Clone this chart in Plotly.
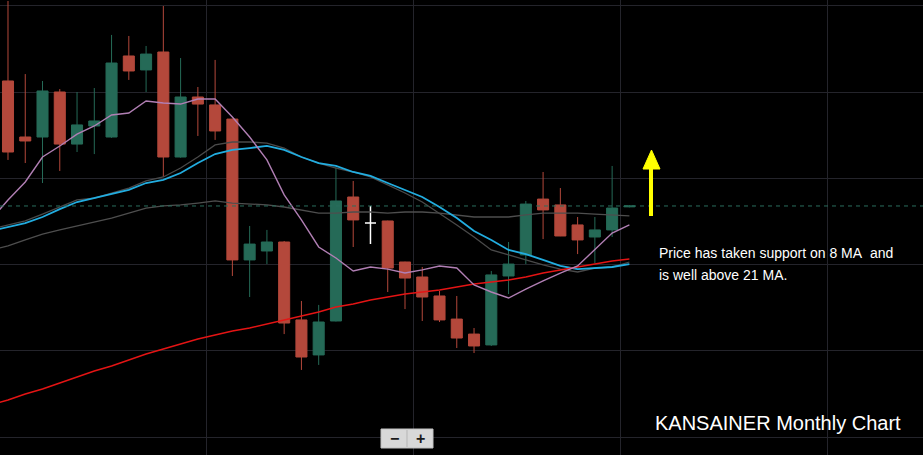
import plotly.graph_objects as go

# ---- data (monthly candles, index 0..36) ----
months = list(range(37))
opens = [556.5, 524.0, 524.0, 550.1, 519.9, 530.4, 524.0, 571.0, 562.9, 573.3,
         512.4, 547.2, 542.6, 534.4, 452.7, 457.9, 463.1, 417.9, 397.6, 417.3,
         489.2, 474.1, 475.3, 451.5, 442.8, 431.8, 418.4, 409.7, 403.4, 443.4,
         455.6, 488.0, 484.6, 473.0, 466.0, 470.1, 483.5]
highs = [602.9, 560.5, 556.5, 551.8, 550.1, 552.4, 583.2, 582.6, 576.8, 600.0,
         569.8, 553.0, 568.7, 534.6, 472.4, 470.1, 463.7, 428.9, 426.6, 506.6,
         498.5, 484.0, 475.5, 451.7, 448.6, 434.7, 431.8, 413.2, 446.3, 463.1,
         486.9, 503.7, 494.4, 477.6, 477.6, 507.2, 484.5]
lows = [510.7, 508.9, 497.3, 504.3, 515.3, 514.1, 523.5, 557.1, 550.1, 500.8,
        512.0, 524.6, 522.3, 443.4, 431.2, 450.3, 409.7, 388.9, 391.8, 417.0,
        460.2, 461.9, 434.1, 424.2, 417.3, 416.7, 401.6, 398.7, 402.8, 432.9,
        450.3, 464.8, 466.5, 456.1, 450.9, 466.0, 483.2]
closes = [515.3, 521.7, 550.7, 519.9, 531.0, 533.3, 566.9, 562.3, 572.1, 512.4,
          547.2, 543.1, 527.5, 452.7, 461.9, 463.1, 416.1, 396.4, 416.7, 486.9,
          475.9, 474.1, 448.0, 442.2, 431.2, 417.9, 407.4, 402.8, 444.0, 450.3,
          485.1, 481.7, 466.6, 464.3, 470.1, 482.8, 484.0]
marked_month = 21  # candle under the white crosshair

# moving averages, index -1..36
ma_x = list(range(-1, 37))
ma8 = [475.9, 487.5, 497.9, 512.4, 518.8, 525.7, 530.4, 536.8, 537.9, 544.9,
       543.7, 543.1, 546.0, 546.0, 535.6, 524.0, 510.7, 490.4, 475.9, 460.2,
       453.8, 446.3, 448.6, 447.4, 445.1, 446.9, 449.2, 448.0, 438.2, 434.1,
       430.6, 435.8, 440.5, 445.1, 449.2, 458.5, 468.3, 473.0]
ma21 = [469.5, 471.8, 474.1, 477.6, 482.2, 486.3, 488.6, 490.9, 493.3, 497.3,
        499.1, 503.1, 508.9, 514.1, 516.5, 517.6, 518.8, 516.5, 512.4, 508.9,
        507.2, 503.7, 501.4, 497.3, 493.3, 489.2, 483.4, 477.0, 469.5, 464.3,
        458.5, 456.1, 452.7, 449.2, 447.4, 448.0, 448.6, 450.3]
ma20 = [470.6, 473.0, 475.3, 479.3, 483.4, 487.5, 488.6, 491.5, 494.4, 498.5,
        500.8, 506.0, 512.4, 519.4, 521.1, 521.1, 520.5, 517.6, 512.4, 508.9,
        506.0, 503.7, 500.8, 496.2, 491.5, 486.3, 479.9, 473.0, 466.0, 458.5,
        455.6, 452.7, 449.8, 447.4, 445.7, 448.0, 448.6, 451.5]
ma50 = [458.5, 460.8, 464.3, 467.7, 470.1, 472.4, 474.7, 477.0, 479.9, 482.8,
        484.0, 484.6, 485.7, 486.9, 485.7, 485.1, 484.6, 483.4, 481.7, 479.9,
        479.9, 480.5, 480.5, 479.9, 480.5, 480.5, 479.9, 478.8, 477.6, 477.6,
        477.6, 478.8, 479.9, 479.9, 479.9, 479.3, 478.8, 478.2]
ma200 = [368.6, 371.5, 374.9, 377.8, 381.3, 384.8, 388.3, 391.2, 394.7, 398.1,
         401.0, 403.9, 406.8, 409.2, 411.5, 413.2, 415.5, 417.9, 420.2, 422.5,
         425.4, 427.1, 429.5, 431.2, 432.9, 434.1, 435.3, 437.0, 438.7, 439.9,
         441.1, 442.8, 445.1, 446.9, 448.6, 450.3, 452.1, 453.2]
last_price = 484.0

note_line1 = "Price has taken support on 8 MA\u00a0 and"
note_line2 = "is well above 21 MA."
title_text = "KANSAINER Monthly Chart"

RED = "#b4483b"
GREEN = "#256a57"
W, H = 923, 455

fig = go.Figure()

# MA lines
for vals, color, width in [
    (ma50, "#4e4e4e", 1.3),
    (ma20, "#4a4a4a", 1.3),
    (ma21, "#22ade0", 1.8),
    (ma200, "#e41414", 1.5),
    (ma8, "#b17fb4", 1.4),
]:
    fig.add_trace(go.Scatter(x=ma_x, y=vals, mode="lines",
                             line=dict(color=color, width=width),
                             hoverinfo="skip", showlegend=False))

idx = [i for i in months if i != marked_month]
fig.add_trace(go.Candlestick(
    x=idx,
    open=[opens[i] for i in idx], high=[highs[i] for i in idx],
    low=[lows[i] for i in idx], close=[closes[i] for i in idx],
    increasing=dict(line=dict(color=GREEN, width=1), fillcolor=GREEN),
    decreasing=dict(line=dict(color=RED, width=1), fillcolor=RED),
    whiskerwidth=0, showlegend=False))

fig.add_trace(go.Candlestick(
    x=[marked_month], open=[opens[marked_month]], high=[highs[marked_month]],
    low=[lows[marked_month]], close=[closes[marked_month]],
    increasing=dict(line=dict(color="white", width=1.5), fillcolor="white"),
    decreasing=dict(line=dict(color="white", width=1.5), fillcolor="white"),
    whiskerwidth=0, showlegend=False))

def px(x):
    return x / W

def py(y):
    return 1 - y / H

shapes = [
    dict(type="line", xref="paper", yref="y", x0=0, x1=1, y0=last_price, y1=last_price,
         line=dict(color="#2a6e5e", width=1, dash="4px,4px")),
    # yellow arrow
    dict(type="line", xref="paper", yref="paper", x0=px(651), x1=px(651), y0=py(216), y1=py(167),
         line=dict(color="#ffff00", width=4)),
    dict(type="path", xref="paper", yref="paper",
         path=f"M {px(643)} {py(169)} L {px(660)} {py(169)} L {px(651.5)} {py(150)} Z",
         fillcolor="#ffff00", line=dict(color="#ffff00", width=1)),
    # zoom buttons
    dict(type="rect", xref="paper", yref="paper", x0=px(381), x1=px(433), y0=py(448), y1=py(429),
         fillcolor="#d8d8d8", line=dict(color="#c0c0c0", width=1)),
    dict(type="line", xref="paper", yref="paper", x0=px(407), x1=px(407), y0=py(447), y1=py(430),
         line=dict(color="#b5b5b5", width=1)),
]

annotations = [
    dict(text=note_line1, xref="paper", yref="paper", x=px(657), y=py(253),
         xanchor="left", yanchor="middle", showarrow=False,
         font=dict(family="Liberation Sans, Arial", size=14, color="white")),
    dict(text=note_line2, xref="paper", yref="paper", x=px(657), y=py(275),
         xanchor="left", yanchor="middle", showarrow=False,
         font=dict(family="Liberation Sans, Arial", size=14, color="white")),
    dict(text=title_text, xref="paper", yref="paper", x=px(653), y=py(423),
         xanchor="left", yanchor="middle", showarrow=False,
         font=dict(family="Liberation Sans, Arial", size=20, color="white")),
    dict(text="<b>\u2212</b>", xref="paper", yref="paper", x=px(394), y=py(438.5),
         xanchor="center", yanchor="middle", showarrow=False,
         font=dict(family="Liberation Sans, Arial", size=16, color="#1a1a1a")),
    dict(text="<b>+</b>", xref="paper", yref="paper", x=px(420), y=py(438.5),
         xanchor="center", yanchor="middle", showarrow=False,
         font=dict(family="Liberation Sans, Arial", size=16, color="#1a1a1a")),
]

fig.update_layout(
    width=W, height=H, margin=dict(l=0, r=0, t=0, b=0),
    paper_bgcolor="black", plot_bgcolor="black",
    showlegend=False, boxgap=0.36, boxgroupgap=0, boxmode="overlay",
    shapes=shapes, annotations=annotations,
    xaxis=dict(range=[-0.463, 53.01], showticklabels=False, tick0=-0.5, dtick=12,
               showgrid=True, gridcolor="#24242b", gridwidth=1, zeroline=False,
               rangeslider=dict(visible=False), fixedrange=True),
    yaxis=dict(range=[339.56, 603.46], showticklabels=False, tick0=350, dtick=50,
               showgrid=True, gridcolor="#24242b", gridwidth=1, zeroline=False,
               fixedrange=True),
)

fig.write_html("out.html", config={"displayModeBar": False})
